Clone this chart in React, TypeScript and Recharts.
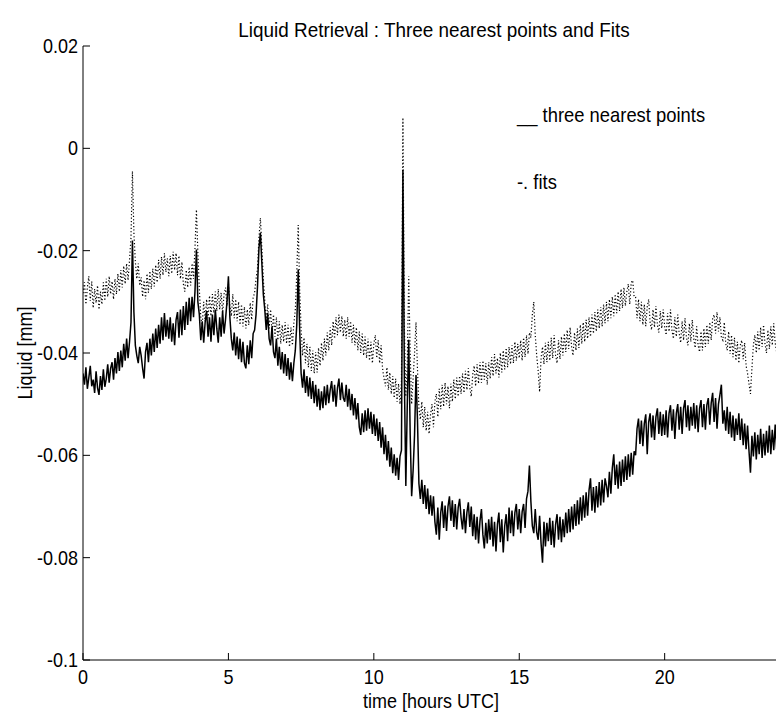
import { LineChart, Line, XAxis, YAxis } from "recharts";

// sampling step of the retrieval series (hours)
const STEP = 0.05;

const xTicks = [0, 5, 10, 15, 20];
const yTicks = [-0.1, -0.08, -0.06, -0.04, -0.02, 0, 0.02];
const yTickLabels = ["-0.1", "-0.08", "-0.06", "-0.04", "-0.02", "0", "0.02"];

// three nearest points, 0.00 .. 24.00 h (two rows = one hour)
const nearest = [
  -0.044, -0.0462, -0.0428, -0.047, -0.0448, -0.0425, -0.0465, -0.0452, -0.0478, -0.0436,
  -0.0468, -0.0482, -0.0445, -0.0472, -0.0432, -0.0466, -0.045, -0.0422, -0.0458, -0.043,
  -0.0418, -0.0452, -0.041, -0.044, -0.0398, -0.0435, -0.0395, -0.0428, -0.0382, -0.0415,
  -0.0372, -0.041, -0.0378, -0.034, -0.018, -0.032, -0.0385, -0.0405, -0.042, -0.0388,
  -0.0405, -0.043, -0.045, -0.0398, -0.038, -0.0418, -0.0372, -0.0405, -0.0362, -0.0398,
  -0.0352, -0.039, -0.0345, -0.0382, -0.033, -0.0375, -0.0322, -0.0368, -0.0335, -0.0372,
  -0.033, -0.0378, -0.0342, -0.0385, -0.0335, -0.032, -0.037, -0.0315, -0.0365, -0.0308,
  -0.0355, -0.03, -0.0345, -0.0292, -0.0338, -0.029, -0.033, -0.028, -0.0198, -0.03,
  -0.0325, -0.0375, -0.0338, -0.038, -0.034, -0.0318, -0.0368, -0.033, -0.0378, -0.0325,
  -0.0365, -0.0315, -0.0352, -0.038, -0.033, -0.0368, -0.0318, -0.0362, -0.0335, -0.03,
  -0.025, -0.033, -0.0372, -0.0395, -0.036, -0.0405, -0.0368, -0.0412, -0.0372, -0.0418,
  -0.0378, -0.042, -0.043, -0.0385, -0.0422, -0.0375, -0.041, -0.0362, -0.0355, -0.0325,
  -0.027, -0.0195, -0.0165, -0.0225, -0.0285, -0.0315, -0.0355, -0.0322, -0.0372, -0.0385,
  -0.0348, -0.0398, -0.041, -0.0372, -0.0425, -0.0388, -0.0432, -0.0398, -0.044, -0.0402,
  -0.0445, -0.041, -0.0452, -0.0418, -0.0455, -0.042, -0.0395, -0.0345, -0.0237, -0.0355,
  -0.044, -0.0468, -0.0432, -0.0478, -0.0445, -0.0485, -0.0448, -0.049, -0.0455, -0.0498,
  -0.0462, -0.0505, -0.047, -0.0512, -0.0475, -0.0508, -0.0465, -0.0502, -0.0462, -0.0498,
  -0.0472, -0.0455, -0.0495, -0.0462, -0.0505, -0.0468, -0.045, -0.0492, -0.0458, -0.0488,
  -0.0495, -0.0462, -0.0505, -0.047, -0.0512, -0.048, -0.0522, -0.0488, -0.053, -0.0498,
  -0.0545, -0.056, -0.0518, -0.0555, -0.0512, -0.0552, -0.0508, -0.0548, -0.0515, -0.0558,
  -0.052, -0.0562, -0.0528, -0.0572, -0.0535, -0.0585, -0.0545, -0.0598, -0.056, -0.061,
  -0.0572, -0.0622, -0.0585, -0.0635, -0.0598, -0.064, -0.0605, -0.0648, -0.0602, -0.059,
  -0.0042, -0.045, -0.066, -0.05, -0.0374, -0.056, -0.068, -0.063, -0.056, -0.0443,
  -0.053, -0.0655, -0.0685, -0.0648, -0.0695, -0.0658, -0.0705, -0.0665, -0.0715, -0.0678,
  -0.0718, -0.068, -0.073, -0.0755, -0.0702, -0.0765, -0.0712, -0.069, -0.0742, -0.0698,
  -0.0748, -0.07, -0.068, -0.0728, -0.0688, -0.074, -0.0695, -0.0745, -0.0702, -0.0685,
  -0.0722, -0.0745, -0.0705, -0.0752, -0.0712, -0.0692, -0.074, -0.07, -0.0758, -0.0715,
  -0.0765, -0.072, -0.0772, -0.0728, -0.0705, -0.0755, -0.0782, -0.0732, -0.0772, -0.0725,
  -0.0765, -0.072, -0.0778, -0.073, -0.0788, -0.0735, -0.0712, -0.077, -0.0725, -0.079,
  -0.0738, -0.0715, -0.0768, -0.0702, -0.0752, -0.0708, -0.0758, -0.0712, -0.0695, -0.0745,
  -0.0705, -0.0752, -0.071, -0.0695, -0.0742, -0.0685, -0.067, -0.062, -0.069, -0.0738,
  -0.0752, -0.0705, -0.075, -0.0765, -0.0718, -0.0772, -0.081, -0.073, -0.0778, -0.0732,
  -0.0768, -0.0722, -0.0775, -0.0728, -0.078, -0.0735, -0.0715, -0.0765, -0.072, -0.077,
  -0.0725, -0.076, -0.0712, -0.0752, -0.0705, -0.075, -0.07, -0.0745, -0.0695, -0.0738,
  -0.0688, -0.0735, -0.0682, -0.0728, -0.0678, -0.0722, -0.0672, -0.0718, -0.0668, -0.0645,
  -0.0708, -0.0662, -0.0712, -0.066, -0.0702, -0.0652, -0.0698, -0.0648, -0.0692, -0.0645,
  -0.066, -0.0682, -0.0632, -0.0675, -0.0625, -0.0598, -0.0658, -0.0618, -0.0665, -0.0612,
  -0.066, -0.0608, -0.0652, -0.0602, -0.0648, -0.0598, -0.0642, -0.0595, -0.0638, -0.0592,
  -0.06, -0.0548, -0.0528, -0.0578, -0.0532, -0.0582, -0.0538, -0.052, -0.0598, -0.0535,
  -0.0518, -0.0565, -0.0522, -0.057, -0.0525, -0.0508, -0.0558, -0.0515, -0.0562, -0.052,
  -0.056, -0.0512, -0.0565, -0.0518, -0.0502, -0.0552, -0.051, -0.0568, -0.0518, -0.05,
  -0.055, -0.0505, -0.0558, -0.0508, -0.0492, -0.0545, -0.0502, -0.0552, -0.0505, -0.0542,
  -0.0498, -0.0548, -0.0502, -0.0555, -0.0508, -0.0492, -0.0545, -0.05, -0.055, -0.0502,
  -0.0488, -0.054, -0.0498, -0.0478, -0.0535, -0.0488, -0.0548, -0.05, -0.0482, -0.0462,
  -0.0538, -0.0512, -0.0552, -0.0505, -0.0558, -0.0515, -0.0565, -0.0522, -0.0572, -0.0528,
  -0.056, -0.0518, -0.057, -0.0528, -0.058, -0.0538, -0.0588, -0.0542, -0.0592, -0.0634,
  -0.0562, -0.0602, -0.0555, -0.0608, -0.056, -0.0598, -0.0548, -0.0605, -0.0558, -0.06,
  -0.0552, -0.0595, -0.0542, -0.0598, -0.055, -0.059, -0.054, -0.0588, -0.0548, -0.0585,
  -0.056,
];

// fits, 0.00 .. 24.00 h (two rows = one hour)
const fits = [
  -0.0283, -0.0262, -0.0305, -0.0272, -0.025, -0.0298, -0.026, -0.0312, -0.0275, -0.0302,
  -0.0268, -0.0315, -0.028, -0.0305, -0.0262, -0.0298, -0.0255, -0.029, -0.025, -0.0285,
  -0.026, -0.0295, -0.0255, -0.0285, -0.0245, -0.028, -0.0238, -0.0272, -0.023, -0.0265,
  -0.0225, -0.0258, -0.0218, -0.0175, -0.0045, -0.0165, -0.0222, -0.0255, -0.0225, -0.0268,
  -0.0252, -0.029, -0.0258, -0.0295, -0.0245, -0.0282, -0.024, -0.0275, -0.0235, -0.027,
  -0.0228, -0.0262, -0.0218, -0.0255, -0.0212, -0.0248, -0.0205, -0.0242, -0.0215, -0.025,
  -0.021, -0.0245, -0.0202, -0.0238, -0.0205, -0.0248, -0.021, -0.0255, -0.0222, -0.0265,
  -0.028, -0.0238, -0.0272, -0.0232, -0.0268, -0.0225, -0.0255, -0.0195, -0.012, -0.0205,
  -0.0275, -0.033, -0.0345, -0.03, -0.0338, -0.0295, -0.0332, -0.0288, -0.0328, -0.0285,
  -0.0322, -0.028, -0.0318, -0.0275, -0.0315, -0.0282, -0.0322, -0.0285, -0.0272, -0.0308,
  -0.0265, -0.0308, -0.0328, -0.0285, -0.0332, -0.0295, -0.0338, -0.03, -0.0345, -0.0305,
  -0.0348, -0.031, -0.0352, -0.0315, -0.0345, -0.0302, -0.0335, -0.0292, -0.0282, -0.0255,
  -0.0235, -0.0175, -0.0136, -0.0195, -0.0255, -0.0298, -0.034, -0.0305, -0.0352, -0.0315,
  -0.036, -0.0325, -0.0368, -0.033, -0.0375, -0.0338, -0.0382, -0.0345, -0.0378, -0.034,
  -0.0382, -0.0345, -0.0388, -0.035, -0.0385, -0.0342, -0.0315, -0.0245, -0.015, -0.0275,
  -0.0355, -0.0405, -0.037, -0.042, -0.0382, -0.0428, -0.0388, -0.0435, -0.0395, -0.044,
  -0.0398, -0.0438, -0.039, -0.0425, -0.038, -0.0415, -0.0372, -0.0405, -0.036, -0.0395,
  -0.035, -0.0385, -0.0338, -0.0372, -0.033, -0.0365, -0.0325, -0.036, -0.0328, -0.0368,
  -0.0335, -0.0372, -0.033, -0.0368, -0.0338, -0.038, -0.0345, -0.0385, -0.035, -0.0395,
  -0.0358, -0.04, -0.0362, -0.0405, -0.0368, -0.041, -0.0372, -0.0415, -0.0378, -0.042,
  -0.0382, -0.0365, -0.041, -0.0375, -0.042, -0.0385, -0.043, -0.045, -0.0465, -0.0428,
  -0.0472, -0.0438, -0.048, -0.0445, -0.0488, -0.045, -0.0495, -0.046, -0.05, -0.0455,
  0.006, -0.035, -0.0485, -0.042, -0.025, -0.04, -0.05, -0.045, -0.04, -0.034,
  -0.043, -0.0508, -0.053, -0.0495, -0.0545, -0.0505, -0.0552, -0.0515, -0.0558, -0.052,
  -0.05, -0.0545, -0.0495, -0.048, -0.0525, -0.047, -0.051, -0.0462, -0.0505, -0.0458,
  -0.05, -0.0465, -0.0508, -0.046, -0.0495, -0.0452, -0.049, -0.0448, -0.0485, -0.0445,
  -0.048, -0.044, -0.0478, -0.0435, -0.0472, -0.043, -0.0468, -0.0485, -0.0442, -0.0425,
  -0.0465, -0.0422, -0.046, -0.0418, -0.0458, -0.0415, -0.0452, -0.042, -0.0462, -0.0418,
  -0.045, -0.0408, -0.0445, -0.0402, -0.044, -0.041, -0.0448, -0.04, -0.0438, -0.0395,
  -0.0432, -0.039, -0.0428, -0.0388, -0.0422, -0.0385, -0.042, -0.0378, -0.0415, -0.0382,
  -0.041, -0.0375, -0.0415, -0.037, -0.0408, -0.0365, -0.0402, -0.036, -0.037, -0.0325,
  -0.03, -0.0365, -0.0405, -0.0435, -0.0476, -0.041, -0.0388, -0.0422, -0.038, -0.0418,
  -0.0378, -0.0415, -0.037, -0.041, -0.0365, -0.0405, -0.042, -0.0375, -0.0412, -0.0368,
  -0.0405, -0.0362, -0.0398, -0.0355, -0.0392, -0.035, -0.0388, -0.0405, -0.036, -0.0395,
  -0.0352, -0.039, -0.0345, -0.0382, -0.034, -0.0378, -0.0335, -0.0372, -0.033, -0.0368,
  -0.0325, -0.0362, -0.032, -0.0358, -0.0315, -0.0352, -0.031, -0.0348, -0.0305, -0.0342,
  -0.03, -0.0338, -0.0295, -0.0332, -0.029, -0.0328, -0.0285, -0.0322, -0.028, -0.0318,
  -0.0275, -0.0312, -0.0272, -0.0308, -0.028, -0.0265, -0.0305, -0.0262, -0.0258, -0.029,
  -0.029, -0.0332, -0.0295, -0.0338, -0.03, -0.0345, -0.0305, -0.0348, -0.031, -0.0295,
  -0.034, -0.0355, -0.0315, -0.035, -0.0308, -0.0345, -0.036, -0.0318, -0.0352, -0.0315,
  -0.0348, -0.0365, -0.0322, -0.0358, -0.0315, -0.0355, -0.0372, -0.033, -0.0368, -0.0325,
  -0.0362, -0.038, -0.0338, -0.0375, -0.0332, -0.037, -0.0385, -0.0342, -0.0378, -0.0335,
  -0.0372, -0.039, -0.0348, -0.0385, -0.0398, -0.0358, -0.0395, -0.0352, -0.0388, -0.0345,
  -0.0382, -0.034, -0.0375, -0.0332, -0.0325, -0.0362, -0.032, -0.0358, -0.033, -0.037,
  -0.0375, -0.034, -0.0382, -0.0395, -0.0358, -0.0402, -0.0365, -0.0408, -0.037, -0.0415,
  -0.0378, -0.042, -0.0385, -0.0375, -0.0412, -0.038, -0.0425, -0.044, -0.046, -0.048,
  -0.043, -0.0385, -0.0365, -0.04, -0.0358, -0.0395, -0.035, -0.0388, -0.0345, -0.0382,
  -0.04, -0.0355, -0.0392, -0.0348, -0.0385, -0.0342, -0.038, -0.0398, -0.0352, -0.039,
  -0.037,
];

const data = nearest.map((v, i) => ({
  t: Math.round(i * STEP * 100) / 100,
  nearest: v,
  fits: fits[i],
}));

const FONT = "'Liberation Sans', Arial, Helvetica, sans-serif";
const blank = () => "";

// the original figure uses a tall, narrow Helvetica
function Narrow({ x, y, size, sx = 0.9, anchor = "start", rotate = 0, dy, children }: any) {
  const rot = rotate ? ` rotate(${rotate})` : "";
  return (
    <text
      transform={`translate(${x} ${y})${rot} scale(${sx} 1)`}
      fontSize={size}
      fontFamily={FONT}
      textAnchor={anchor}
      dy={dy}
      fill="#000"
    >
      {children}
    </text>
  );
}

function BottomTick(props: any) {
  const { x, y, payload } = props;
  return (
    <Narrow x={x} y={y} size={20} anchor="middle" dy="0.71em">
      {String(payload.value)}
    </Narrow>
  );
}

function LeftTick(props: any) {
  const { x, y, payload } = props;
  const idx = yTicks.findIndex((t) => Math.abs(t - payload.value) < 1e-9);
  return (
    <Narrow x={x} y={y} size={20} anchor="end" dy="0.355em">
      {idx >= 0 ? yTickLabels[idx] : String(payload.value)}
    </Narrow>
  );
}

export default function App() {
  return (
    <div
      style={{
        position: "absolute",
        left: 0,
        top: 0,
        width: 776,
        height: 717,
        overflow: "hidden",
        background: "#fff",
      }}
    >
      <LineChart
        width={800}
        height={717}
        data={data}
        margin={{ top: 46, right: 19, bottom: 27, left: 23 }}
      >
        <XAxis
          xAxisId="bottom"
          dataKey="t"
          type="number"
          domain={[0, 24]}
          ticks={xTicks}
          allowDataOverflow
          height={30}
          stroke="#000"
          tickSize={-7}
          tickMargin={17}
          tick={<BottomTick />}
        />
        <XAxis
          xAxisId="top"
          orientation="top"
          dataKey="t"
          type="number"
          domain={[0, 24]}
          ticks={xTicks}
          height={0}
          stroke="#000"
          tickSize={-7}
          tickFormatter={blank}
        />
        <YAxis
          yAxisId="left"
          type="number"
          domain={[-0.1, 0.02]}
          ticks={yTicks}
          allowDataOverflow
          width={60}
          stroke="#000"
          tickSize={-7}
          tickMargin={12}
          tick={<LeftTick />}
        />
        <YAxis
          yAxisId="right"
          orientation="right"
          type="number"
          domain={[-0.1, 0.02]}
          ticks={yTicks}
          width={0}
          stroke="#000"
          tickSize={-7}
          tickFormatter={blank}
        />
        <Line
          xAxisId="bottom"
          yAxisId="left"
          dataKey="fits"
          stroke="#000"
          strokeWidth={1.2}
          strokeDasharray="1.2 2.2"
          dot={false}
          isAnimationActive={false}
        />
        <Line
          xAxisId="bottom"
          yAxisId="left"
          dataKey="nearest"
          stroke="#000"
          strokeWidth={1.5}
          dot={false}
          isAnimationActive={false}
        />
      </LineChart>
      <svg
        width={776}
        height={717}
        style={{ position: "absolute", left: 0, top: 0, pointerEvents: "none" }}
      >
        <Narrow x={434} y={37} size={21} anchor="middle">
          Liquid Retrieval : Three nearest points and Fits
        </Narrow>
        <Narrow x={431} y={708} size={20} anchor="middle">
          time [hours UTC]
        </Narrow>
        <Narrow x={32} y={353} size={20} anchor="middle" rotate={-90}>
          Liquid [mm]
        </Narrow>
        <Narrow x={517} y={122} size={20} sx={0.92}>
          __ three nearest points
        </Narrow>
        <Narrow x={517} y={189} size={20} sx={0.92}>
          -. fits
        </Narrow>
      </svg>
    </div>
  );
}
